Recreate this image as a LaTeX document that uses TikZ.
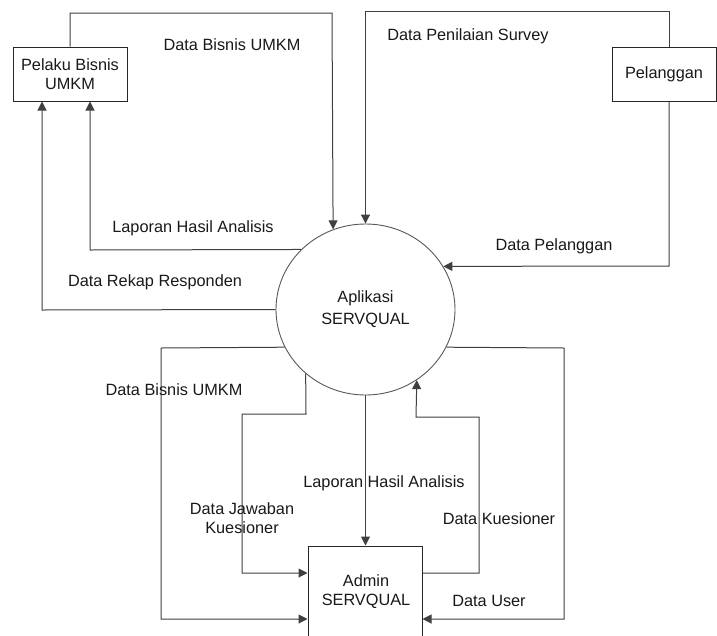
\documentclass[tikz,border=0pt]{standalone}
\usepackage{fontspec}
\setmainfont{Liberation Sans}
\usetikzlibrary{shapes.geometric,arrows.meta}
\begin{document}
\begin{tikzpicture}[x=1pt,y=-1pt,
  flow/.style={draw=black!75,line width=1pt,-{Triangle[length=9pt,width=9pt]}},
  ent/.style={draw=black!85,line width=1pt,rectangle,inner sep=0pt,align=center,text=black!90,font=\fontsize{16.3}{19}\selectfont},
  proc/.style={draw=black!65,line width=0.9pt,ellipse,inner sep=0pt,minimum width=179pt,minimum height=171pt,align=center,text=black!90,font=\fontsize{16.3}{22}\selectfont},
  lbl/.style={inner sep=0pt,align=center,text=black!90,font=\fontsize{16.3}{19}\selectfont}]
\useasboundingbox (0,0) rectangle (717,635);
\fill[white] (0,0) rectangle (717,635);
% nodes
\node[ent,minimum width=114pt,minimum height=54pt] (pb) at (70,74) {Pelaku Bisnis\\UMKM};
\node[ent,minimum width=104pt,minimum height=54pt] (plg) at (664,74) {Pelanggan};
\node[proc] (app) at (365.5,309.5) {Aplikasi\\SERVQUAL};
\node[ent,minimum width=114pt,minimum height=110pt] (adm) at (365,601) {};
\node[lbl] (admt) at (366,592) {Admin\\SERVQUAL};
% helper coordinates
\coordinate (c1) at (70,13);
\coordinate (c2) at (332,13);
\coordinate (c3) at (669,11);
\coordinate (c4) at (365.5,11);
\coordinate (c5) at (90,250);
\coordinate (c6) at (42,310);
\coordinate (c7) at (669,266);
\coordinate (c8) at (161,348);
\coordinate (c9) at (161,619);
\coordinate (c10) at (306,414);
\coordinate (c11) at (242,414);
\coordinate (c12) at (242,573);
\coordinate (c13) at (479,573);
\coordinate (c14) at (479,417);
\coordinate (c15) at (416,417);
\coordinate (c16) at (564,348);
\coordinate (c17) at (564,619);
% connectors
\draw[flow] (pb.north) -- (c1) -- (c2) -- (app.112.9);
\draw[flow] ([xshift=5pt]plg.north) -- (c3) -- (c4) -- (app.north);
\draw[flow] (app.137.2) -- (c5) -- ([xshift=20pt]pb.south);
\draw[flow] (app.west) -- (c6) -- ([xshift=-28pt]pb.south);
\draw[flow] ([xshift=5pt]plg.south) -- (c7) -- (app.29.4);
\draw[flow] (app.205.7) -- (c8) -- (c9) -- (c9 -| adm.west);
\draw[flow] (app.227) -- (c10) -- (c11) -- (c12) -- (c12 -| adm.west);
\draw[flow] (app.south) -- (app.south |- adm.north);
\draw[flow] (c13 -| adm.east) -- (c13) -- (c14) -- (c15) -- (app.-54.4);
\draw[flow] (app.-25.7) -- (c16) -- (c17) -- (c17 -| adm.east);
% labels
\node[lbl] (l1) at (232,45) {Data Bisnis UMKM};
\node[lbl] (l2) at (193,228) {Laporan Hasil Analisis};
\node[lbl] (l3) at (155,282) {Data Rekap Responden};
\node[lbl] (l4) at (468,36) {Data Penilaian Survey};
\node[lbl] (l5) at (554,246) {Data Pelanggan};
\node[lbl] (l6) at (174,390) {Data Bisnis UMKM};
\node[lbl] (l7) at (242,518) {Data Jawaban\\Kuesioner};
\node[lbl] (l8) at (384,483) {Laporan Hasil Analisis};
\node[lbl] (l9) at (499,519) {Data Kuesioner};
\node[lbl] (l10) at (489,601) {Data User};
\end{tikzpicture}
\end{document}
